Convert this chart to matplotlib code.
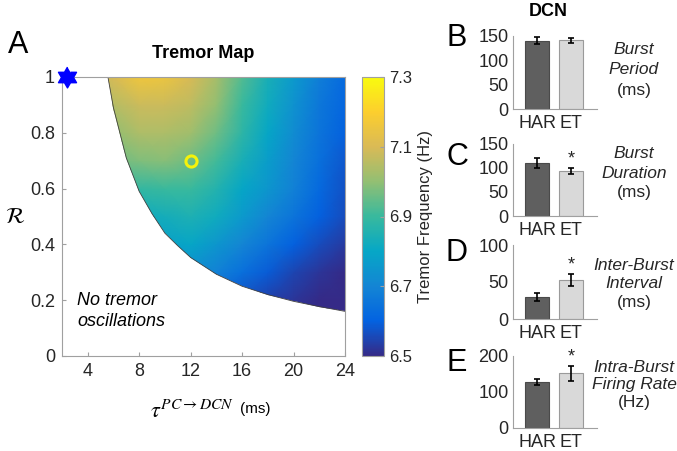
import numpy as np
import matplotlib
matplotlib.use("Agg")
import matplotlib.pyplot as plt
from matplotlib.colors import LinearSegmentedColormap
from matplotlib.patches import Polygon

plt.rcParams['font.family'] = ['Liberation Sans', 'DejaVu Sans']
plt.rcParams['mathtext.fontset'] = 'stix'

# tremor map grid (values in Hz), rows = R, cols = tau
tau = [4, 6, 8, 10, 12, 14, 16, 18, 20, 22, 24]
R = [0.1, 0.2, 0.3, 0.4, 0.5, 0.6, 0.7, 0.8, 0.9, 1.0]
freq = [
    [6.55, 6.55, 6.55, 6.55, 6.55, 6.54, 6.53, 6.52, 6.51, 6.50, 6.50],
    [6.60, 6.60, 6.60, 6.60, 6.60, 6.60, 6.57, 6.54, 6.52, 6.50, 6.50],
    [6.70, 6.70, 6.70, 6.70, 6.72, 6.69, 6.64, 6.59, 6.55, 6.52, 6.50],
    [6.78, 6.78, 6.78, 6.78, 6.80, 6.75, 6.70, 6.65, 6.60, 6.56, 6.53],
    [6.82, 6.82, 6.82, 6.83, 6.85, 6.82, 6.76, 6.70, 6.65, 6.60, 6.56],
    [6.88, 6.88, 6.89, 6.90, 6.90, 6.86, 6.80, 6.75, 6.69, 6.62, 6.57],
    [6.94, 6.96, 6.98, 6.99, 6.96, 6.91, 6.84, 6.77, 6.70, 6.64, 6.58],
    [6.98, 7.00, 7.04, 7.04, 7.02, 6.96, 6.88, 6.80, 6.72, 6.65, 6.60],
    [7.02, 7.05, 7.08, 7.08, 7.06, 7.00, 6.90, 6.82, 6.74, 6.66, 6.61],
    [7.05, 7.10, 7.16, 7.15, 7.10, 7.03, 6.93, 6.84, 6.76, 6.68, 6.62],
]

# edge of the tremor region
edge_tau = [5.57, 6, 7, 8, 9, 10, 11, 12, 14, 16, 18, 20, 22, 24]
edge_R = [1.0, 0.89, 0.71, 0.59, 0.51, 0.44, 0.395, 0.353, 0.293, 0.25, 0.22, 0.196, 0.177, 0.16]

star_pt = (2.4, 1.0)
circ_pt = (12, 0.7)

# DCN bar data
groups = ['HAR', 'ET']
period = [140, 141]
period_err = [7, 4.5]
duration = [111, 93]
duration_err = [10, 6]
ibi = [30, 53]
ibi_err = [5, 8]
rate = [128, 152]
rate_err = [8, 21]

parula = LinearSegmentedColormap.from_list('parula', [
    '#352a87', '#0363e1', '#1485d4', '#06a7c6', '#38b99e',
    '#92bf73', '#d9ba56', '#fcce2e', '#f9fb0e'])

# six-pointed star (two triangles) marker shape
ang = np.pi / 2 + np.arange(12) * np.pi / 6
rad = np.where(np.arange(12) % 2 == 0, 1.0, 1 / np.sqrt(3))
hexagram = np.column_stack([rad * np.cos(ang), rad * np.sin(ang)])

W, H = 677, 451
fig = plt.figure(figsize=(6.77, 4.51), dpi=100)

def box(x0, y0, x1, y1):
    return [x0 / W, 1 - y1 / H, (x1 - x0) / W, (y1 - y0) / H]

spine_col = '#a0a0a0'
txt_col = '#262626'

ax = fig.add_axes(box(62, 77, 345, 356))
mesh = ax.pcolormesh(tau, R, np.array(freq), cmap=parula, vmin=6.5, vmax=7.3,
                     shading='gouraud')
poly = list(zip(edge_tau, edge_R)) + [(24, 1.0)]
clip = Polygon(poly, closed=True, transform=ax.transData, facecolor='none', edgecolor='none')
ax.add_patch(clip)
mesh.set_clip_path(clip)
ax.plot(edge_tau, edge_R, color='#404040', lw=0.6)
ax.plot(*circ_pt, 'o', ms=8, mfc='none', mec='#f5f20a', mew=2.2)
ax.plot(*star_pt, marker=hexagram, ms=15, color='#0000ff', mec='#0000ff', clip_on=False, zorder=5)
ax.set_xlim(2, 24)
ax.set_ylim(0, 1)
ax.set_xticks([4, 8, 12, 16, 20, 24])
ax.set_yticks([0, 0.2, 0.4, 0.6, 0.8, 1])
ax.set_yticklabels(['0', '0.2', '0.4', '0.6', '0.8', '1'])
ax.tick_params(direction='in', length=3, color=spine_col, labelsize=13, labelcolor=txt_col, pad=5)
for s in ax.spines.values():
    s.set_color(spine_col)
ax.set_title('Tremor Map', fontsize=13, fontweight='bold', pad=14)
ax.text(3.2, 0.23, 'No tremor\noscillations', fontsize=13, style='italic',
        va='top', linespacing=1.3, color='black')

fig.text(15 / W, 1 - 217 / H, r'$\mathcal{R}$', fontsize=16, ha='center', va='center')
fig.text(192 / W, 1 - 412 / H, r'$\tau^{PC\rightarrow DCN}$', fontsize=16, ha='center', va='center')
fig.text(255 / W, 1 - 409 / H, '(ms)', fontsize=11, ha='center', va='center')
fig.text(18 / W, 1 - 45 / H, 'A', fontsize=22, ha='center', va='center')

cax = fig.add_axes(box(362, 77, 384, 356))
cb = fig.colorbar(mesh, cax=cax, ticks=[6.5, 6.7, 6.9, 7.1, 7.3])
cb.outline.set_edgecolor(spine_col)
cax.tick_params(direction='in', length=3, color=spine_col, labelsize=12, labelcolor=txt_col)
cb.set_label('Tremor Frequency (Hz)', fontsize=12, color=txt_col, labelpad=4)

# bar panels
panels = [
    ('B', period, period_err, (36, 109), [0, 50, 100, 150], 150, False,
     ['Burst', 'Period', '(ms)'], [50, 69, 90], 38),
    ('C', duration, duration_err, (144, 216), [0, 50, 100, 150], 150, True,
     ['Burst', 'Duration', '(ms)'], [153, 173, 193], 157),
    ('D', ibi, ibi_err, (245, 319), [0, 50, 100], 100, True,
     ['Inter-Burst', 'Interval', '(ms)'], [265, 283, 302], 253),
    ('E', rate, rate_err, (356, 428), [0, 100, 200], 200, True,
     ['Intra-Burst', 'Firing Rate', '(Hz)'], [367, 385, 403], 363),
]
for letter, vals, errs, (y0, y1), ticks, ymax, sig, lines, ly, lety in panels:
    bx = fig.add_axes(box(513, y0, 597, y1))
    bx.bar([1, 2], vals, width=0.7, color=['#5f5f5f', '#d9d9d9'],
           edgecolor=['#4a4a4a', '#9a9a9a'], linewidth=0.8)
    bx.errorbar([1, 2], vals, yerr=errs, fmt='none', ecolor='black',
                elinewidth=1.2, capsize=2.2, capthick=1.2)
    if sig:
        bx.text(2, vals[1] + errs[1] + ymax * 0.01, '*', ha='center', va='bottom',
                fontsize=13, color=txt_col)
    bx.set_xlim(0.3, 2.75)
    bx.set_ylim(0, ymax)
    bx.set_yticks(ticks)
    bx.set_xticks([1, 2])
    bx.set_xticklabels(groups)
    bx.tick_params(axis='y', direction='in', length=0, labelsize=13, labelcolor=txt_col, pad=3)
    bx.tick_params(axis='x', length=0, labelsize=13, labelcolor=txt_col, pad=4)
    bx.spines['top'].set_visible(False)
    bx.spines['right'].set_visible(False)
    bx.spines['left'].set_color(spine_col)
    bx.spines['bottom'].set_color(spine_col)
    fig.text(457 / W, 1 - lety / H, letter, fontsize=22, ha='center', va='center')
    for i, (t, yy) in enumerate(zip(lines, ly)):
        fig.text(634 / W, 1 - yy / H, t, fontsize=12.5, ha='center', va='center',
                 style='normal' if i == 2 else 'italic', color=txt_col)

fig.text(548 / W, 1 - 11 / H, 'DCN', fontsize=13, fontweight='bold', ha='center', va='center')

fig.savefig('out.png', dpi=100)
